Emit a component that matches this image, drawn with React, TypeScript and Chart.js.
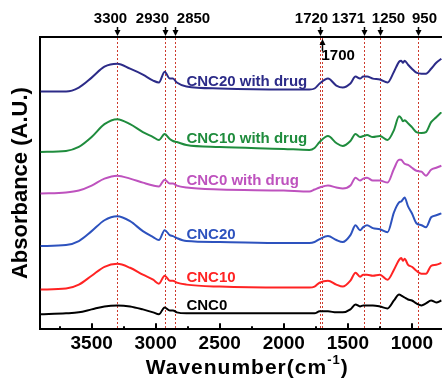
import React, { useEffect, useRef } from "react";
import { Chart, registerables } from "chart.js";

Chart.register(...registerables);

// Wavenumber grid (cm-1)
const wavenumbers = [3900, 3700, 3600, 3500, 3400, 3300, 3200, 3100, 3020, 2975, 2930, 2890, 2865, 2835, 2760, 2500, 2000, 1800, 1760, 1720, 1655, 1590, 1540, 1480, 1440, 1405, 1380, 1350, 1305, 1250, 1190, 1140, 1100, 1083, 1070, 1057, 1030, 1000, 965, 925, 890, 850, 810, 770];

// Offset absorbance traces (a.u.)
const cnc20Drug = [240, 240, 244, 254, 265, 268, 263, 257, 251, 249, 260, 253, 253, 249, 245, 243, 242, 242, 243, 248, 253, 246, 244, 248, 255, 253, 255, 255, 253, 252, 249, 260, 270, 271, 269, 271, 267, 263, 259, 258, 258, 263, 269, 273];
const cnc10Drug = [179, 180, 184, 194, 207, 212, 207, 199, 194, 191, 197, 192, 190, 189, 186, 184, 182, 181, 183, 189, 195, 188, 185, 190, 197, 194, 195, 196, 194, 195, 191, 201, 215, 213, 210, 211, 208, 204, 199, 198, 199, 209, 214, 219];
const cnc0Drug = [137, 138, 140, 145, 152, 155, 152, 148, 145, 144, 151, 147, 147, 145, 143, 141, 140, 139, 141, 143, 145, 143, 142, 145, 153, 150, 152, 153, 150, 150, 148, 162, 171, 171, 169, 167, 166, 163, 160, 159, 155, 161, 163, 165];
const cnc20 = [84, 85, 89, 99, 110, 114, 109, 99, 93, 90, 100, 95, 94, 92, 89, 88, 87, 87, 88, 91, 94, 90, 88, 95, 105, 100, 103, 105, 102, 101, 98, 118, 128, 129, 131, 133, 124, 117, 107, 105, 103, 113, 115, 117];
const cnc10 = [40, 41, 45, 54, 63, 66, 62, 55, 50, 46, 54, 49, 49, 47, 45, 43, 42, 42, 43, 47, 49, 45, 43, 49, 57, 53, 55, 55, 54, 55, 50, 60, 70, 72, 69, 71, 65, 63, 59, 56, 56, 64, 65, 67];
const cnc0 = [15, 16, 17, 20, 23, 24, 23, 20, 17, 15, 22, 19, 19, 17, 16, 16, 16, 16, 16, 18, 18, 17, 17, 20, 25, 23, 24, 24, 24, 23, 21, 29, 35, 34, 33, 32, 30, 29, 26, 24, 26, 29, 27, 29];

const seriesNames = ["CNC20 with drug", "CNC10 with drug", "CNC0 with drug", "CNC20", "CNC10", "CNC0"];
const seriesValues = [cnc20Drug, cnc10Drug, cnc0Drug, cnc20, cnc10, cnc0];
const seriesColors = ["#2c2b88", "#1f8c3d", "#be52be", "#2d52be", "#ff2323", "#000000"];
const seriesLabelY = [250, 192, 150, 95, 52, 24];
const seriesLabelX = 2760;

// Band annotations
const bandValues = [3300, 2930, 2850, 1720, 1371, 1250, 950];
const bandLabels = ["3300", "2930", "2850", "1720", "1371", "1250", "950"];
const bandLabelShift = [-7, -13, 18, -9, -16, 8, 6];
const innerBandValue = 1700;
const innerBandLabel = "1700";

const xMin = 765;
const xMax = 3900;
const yMin = 0;
const yMax = 295;

const FONT = '"Liberation Sans", Arial, Helvetica, sans-serif';
const DOT_COLOR = "#cc3a2c";

function drawArrow(ctx: CanvasRenderingContext2D, x: number, yFrom: number, yTip: number) {
  const dir = yTip > yFrom ? 1 : -1;
  ctx.beginPath();
  ctx.moveTo(x, yFrom);
  ctx.lineTo(x, yTip - dir * 4);
  ctx.stroke();
  ctx.beginPath();
  ctx.moveTo(x, yTip);
  ctx.lineTo(x - 3, yTip - dir * 6);
  ctx.lineTo(x + 3, yTip - dir * 6);
  ctx.closePath();
  ctx.fill();
}

const decorPlugin = {
  id: "decor",
  beforeDatasetsDraw(chart: any) {
    const { ctx, chartArea, scales } = chart;
    const xs = scales.x;
    ctx.save();
    ctx.strokeStyle = DOT_COLOR;
    ctx.lineWidth = 1;
    ctx.setLineDash([2, 2]);
    [...bandValues, innerBandValue].forEach((v) => {
      const px = Math.round(xs.getPixelForValue(v)) + 0.5;
      ctx.beginPath();
      ctx.moveTo(px, chartArea.top + 1);
      ctx.lineTo(px, chartArea.bottom - 1);
      ctx.stroke();
    });
    ctx.restore();
  },
  afterDraw(chart: any) {
    const { ctx, chartArea, scales } = chart;
    const xs = scales.x;
    const ys = scales.y;
    ctx.save();
    ctx.fillStyle = "#000";
    ctx.strokeStyle = "#000";
    ctx.lineWidth = 1.5;

    // top band arrows and labels
    ctx.font = `bold 15px ${FONT}`;
    ctx.textAlign = "center";
    ctx.textBaseline = "middle";
    bandValues.forEach((v, i) => {
      const px = Math.round(xs.getPixelForValue(v)) + 0.5;
      drawArrow(ctx, px, chartArea.top - 10, chartArea.top - 1);
      ctx.fillText(bandLabels[i], px + bandLabelShift[i], chartArea.top - 18);
    });

    // inner 1700 arrow
    const p17 = Math.round(xs.getPixelForValue(innerBandValue)) + 0.5;
    drawArrow(ctx, p17, chartArea.top + 14, chartArea.top + 2);
    ctx.textAlign = "left";
    ctx.fillText(innerBandLabel, p17 - 1, chartArea.top + 19);

    // series labels
    ctx.textAlign = "left";
    seriesNames.forEach((name, i) => {
      ctx.fillStyle = seriesColors[i];
      ctx.fillText(name, xs.getPixelForValue(seriesLabelX), ys.getPixelForValue(seriesLabelY[i]));
    });

    // inward tick marks on bottom axis
    ctx.strokeStyle = "#000";
    ctx.lineWidth = 2;
    xs.ticks.forEach((t: any) => {
      const px = Math.round(xs.getPixelForValue(t.value));
      const len = t.value % 500 === 0 ? 6 : 3;
      ctx.beginPath();
      ctx.moveTo(px, chartArea.bottom);
      ctx.lineTo(px, chartArea.bottom - len);
      ctx.stroke();
    });

    // x axis title with superscript
    ctx.fillStyle = "#000";
    ctx.textBaseline = "alphabetic";
    const mainFont = `bold 21px ${FONT}`;
    const supFont = `bold 13px ${FONT}`;
    (ctx as any).letterSpacing = "1px";
    ctx.font = mainFont;
    const t1 = "Wavenumber(cm";
    const t3 = ")";
    const w1 = ctx.measureText(t1).width;
    const w3 = ctx.measureText(t3).width;
    ctx.font = supFont;
    const t2 = "-1";
    const w2 = ctx.measureText(t2).width;
    const total = w1 + w2 + w3;
    const cx = (chartArea.left + chartArea.right) / 2 + 6;
    const baseY = chartArea.bottom + 45;
    let x0 = cx - total / 2;
    ctx.font = mainFont;
    ctx.fillText(t1, x0, baseY);
    x0 += w1;
    ctx.font = supFont;
    ctx.fillText(t2, x0, baseY - 10);
    x0 += w2;
    ctx.font = mainFont;
    ctx.fillText(t3, x0, baseY);
    ctx.restore();
  },
};

export default function App() {
  const ref = useRef<HTMLCanvasElement>(null);
  useEffect(() => {
    const canvas = ref.current;
    if (!canvas) return;
    const datasets = seriesNames.map((name, i) => ({
      label: name,
      data: wavenumbers.map((w, j) => ({ x: w, y: seriesValues[i][j] })),
      borderColor: seriesColors[i],
      backgroundColor: seriesColors[i],
      borderWidth: 2,
      pointRadius: 0,
      cubicInterpolationMode: "monotone",
      fill: false,
    }));
    const chart = new Chart(canvas, {
      type: "line",
      data: { datasets },
      options: {
        animation: false,
        responsive: false,
        devicePixelRatio: 1,
        layout: { padding: { left: 8, top: 37, right: 0, bottom: 24 } },
        plugins: { legend: { display: false }, tooltip: { enabled: false } },
        scales: {
          x: {
            type: "linear",
            position: "bottom",
            reverse: true,
            min: xMin,
            max: xMax,
            grid: { display: false, drawTicks: false },
            border: { display: true, color: "#000", width: 2 },
            ticks: {
              stepSize: 250,
              includeBounds: false,
              autoSkip: false,
              maxRotation: 0,
              padding: 3,
              color: "#000",
              font: { family: FONT, size: 19, weight: "bold", lineHeight: 1.2 },
              callback: (v: any) => (Number(v) % 500 === 0 ? String(v) : ""),
            },
          },
          x2: {
            type: "linear",
            axis: "x",
            position: "top",
            reverse: true,
            min: xMin,
            max: xMax,
            grid: { display: false, drawTicks: false },
            border: { display: true, color: "#000", width: 2 },
            ticks: { display: false },
          },
          y: {
            type: "linear",
            position: "left",
            min: yMin,
            max: yMax,
            grid: { display: false, drawTicks: false },
            border: { display: true, color: "#000", width: 2 },
            ticks: { display: false },
            title: {
              display: true,
              text: "Absorbance (A.U.)",
              color: "#000",
              padding: { top: 0, bottom: 6 },
              font: { family: FONT, size: 22, weight: "bold", lineHeight: 1.2 },
            },
          },
        },
      } as any,
      plugins: [decorPlugin],
    });
    return () => chart.destroy();
  }, []);
  return (
    <div style={{ position: "absolute", left: 0, top: 0, width: 442, height: 382, background: "#fff" }}>
      <canvas ref={ref} width={442} height={382} style={{ display: "block", width: 442, height: 382 }} />
    </div>
  );
}
